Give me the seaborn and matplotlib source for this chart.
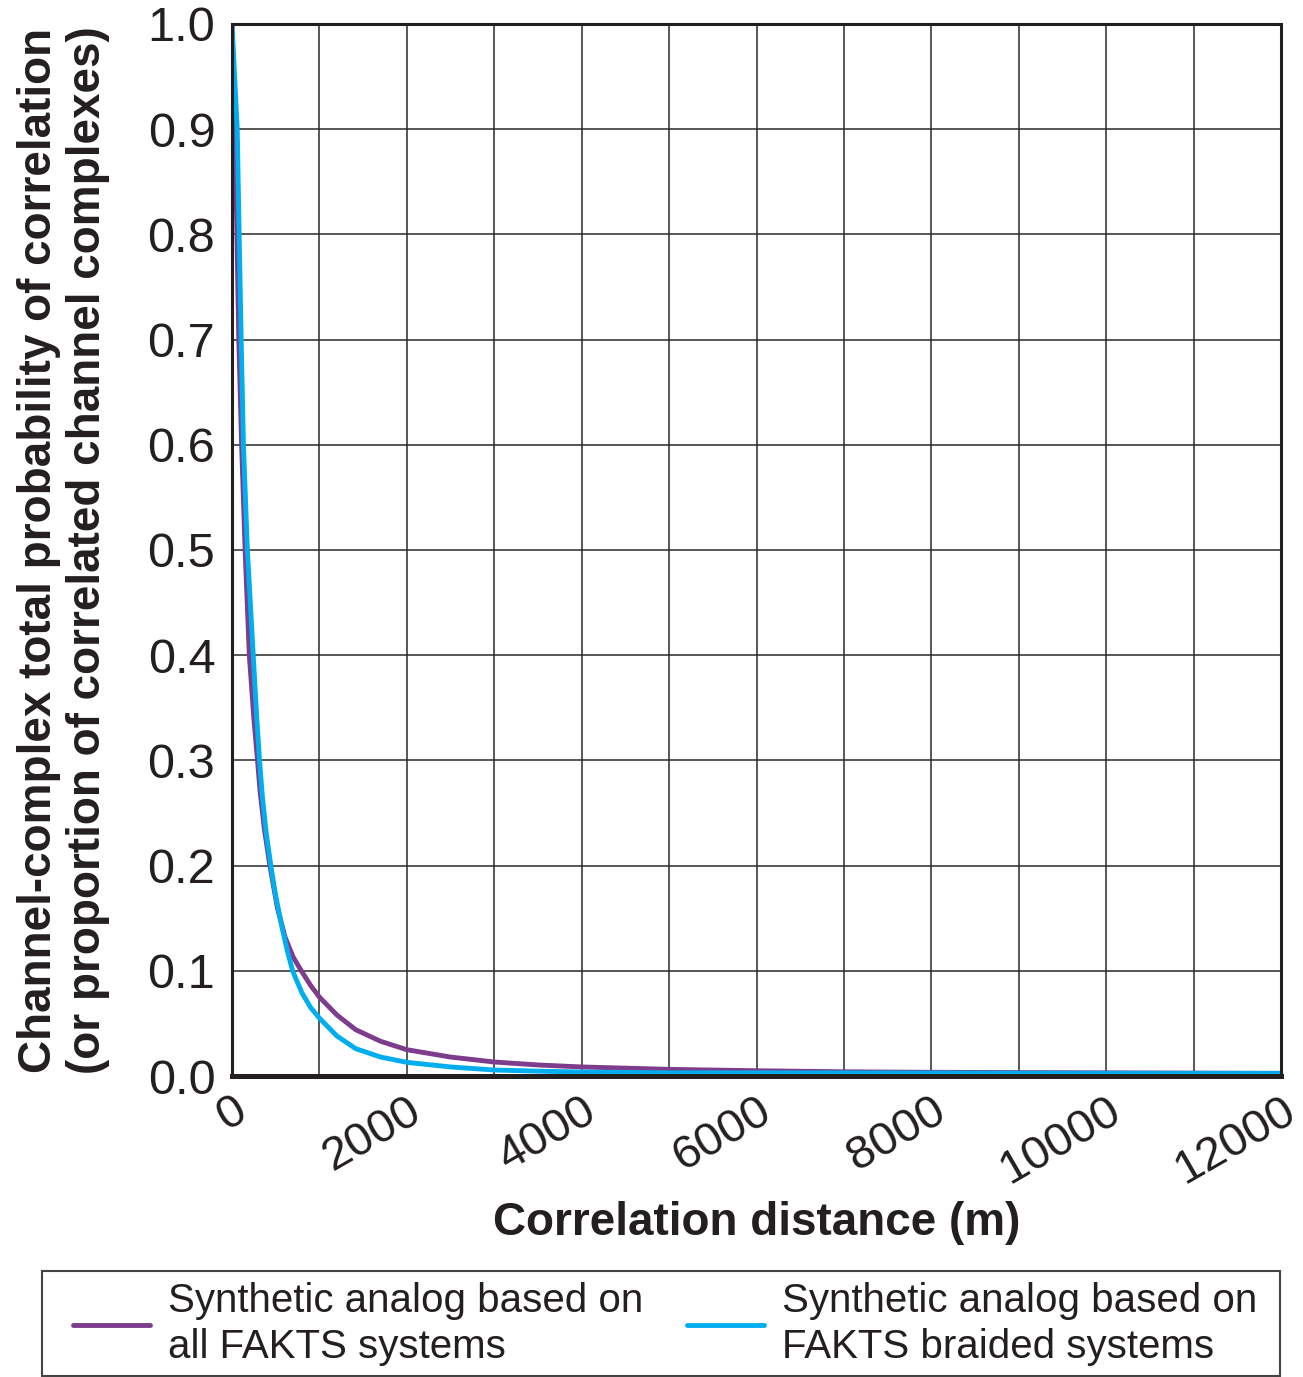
import numpy as np
import pandas as pd
import matplotlib
matplotlib.use("Agg")
import matplotlib.pyplot as plt
from matplotlib.patches import Rectangle
from matplotlib.ticker import MultipleLocator, FormatStrFormatter
import seaborn as sns

# Correlation curves (distance in m, probability of correlation)
all_dist = [0, 34, 56, 78, 110, 150, 198, 250, 292, 322, 370, 433, 519, 607, 700, 793,
            900, 1000, 1200, 1415, 1700, 2000, 2500, 3000, 3500, 4000, 5000, 6000,
            7000, 8000, 10000, 12000]
all_prob = [1.0, 0.9, 0.8, 0.7, 0.6, 0.5, 0.4, 0.34, 0.3, 0.27, 0.235, 0.2, 0.16, 0.132,
            0.113, 0.1, 0.086, 0.075, 0.058, 0.044, 0.033, 0.025, 0.018, 0.0133, 0.0105,
            0.0086, 0.0063, 0.005, 0.004, 0.0035, 0.003, 0.0025]

braided_dist = [0, 60, 82, 105, 131, 176, 243, 280, 315, 348, 390, 444, 496, 570, 630,
                693, 800, 900, 1000, 1200, 1415, 1700, 2000, 2500, 3000, 3500, 4000,
                5000, 6000, 8000, 10000, 12000]
braided_prob = [1.0, 0.9, 0.8, 0.7, 0.6, 0.5, 0.4, 0.345, 0.3, 0.265, 0.232, 0.2, 0.173,
                0.142, 0.12, 0.1, 0.079, 0.065, 0.055, 0.038, 0.026, 0.018, 0.013, 0.0086,
                0.0057, 0.0046, 0.0038, 0.003, 0.003, 0.0028, 0.0025, 0.0025]

series_names = ["Synthetic analog based on\nall FAKTS systems",
                "Synthetic analog based on\nFAKTS braided systems"]
series_colors = ["#7d3c8c", "#00aeef"]

x_ticks = [0, 2000, 4000, 6000, 8000, 10000, 12000]

df = pd.concat([
    pd.DataFrame({"dist": all_dist, "prob": all_prob, "series": series_names[0]}),
    pd.DataFrame({"dist": braided_dist, "prob": braided_prob, "series": series_names[1]}),
], ignore_index=True)

sns.set_style("white")
plt.rcParams["font.family"] = ["Liberation Sans", "DejaVu Sans"]

W, H = 1303, 1377
fig = plt.figure(figsize=(W / 100, H / 100), dpi=100)
ax = fig.add_axes([232 / W, 1 - 1076 / H, (1281 - 232) / W, (1076 - 24) / H])

sns.lineplot(data=df, x="dist", y="prob", hue="series", hue_order=series_names,
             palette=series_colors, linewidth=3.5, ax=ax, legend=True,
             estimator=None, sort=True)
for ln in ax.get_lines():
    ln.set_solid_joinstyle("round")
    ln.set_solid_capstyle("round")

ax.set_xlim(0, 12000)
ax.set_ylim(0, 1.0)

ax.xaxis.set_major_locator(MultipleLocator(2000))
ax.xaxis.set_minor_locator(MultipleLocator(1000))
ax.yaxis.set_major_locator(MultipleLocator(0.1))
ax.yaxis.set_major_formatter(FormatStrFormatter("%.1f"))
ax.set_xticks(x_ticks)
ax.set_xticklabels([str(v) for v in x_ticks])

grid_color = "#2a2a2a"
ax.grid(True, which="both", axis="x", color=grid_color, linewidth=1.1)
ax.grid(True, which="major", axis="y", color=grid_color, linewidth=1.1)
ax.set_axisbelow(True)

ax.tick_params(axis="x", which="major", direction="out", length=7, width=2,
               color="#231f20", labelsize=34, pad=2)
ax.tick_params(axis="x", which="minor", length=0)
ax.tick_params(axis="y", which="major", length=0, labelsize=35, pad=12)
for lab in ax.get_xticklabels():
    lab.set_rotation(30)
    lab.set_ha("right")
    lab.set_va("top")
    lab.set_rotation_mode("anchor")
for lab in ax.get_xticklabels() + ax.get_yticklabels():
    lab.set_color("#231f20")

for side, lw in {"top": 2.2, "right": 2.2, "left": 2.2, "bottom": 3.6}.items():
    ax.spines[side].set_visible(True)
    ax.spines[side].set_color("#231f20")
    ax.spines[side].set_linewidth(lw)

ax.set_xlabel("Correlation distance (m)", fontsize=33, fontweight="bold",
              color="#231f20", labelpad=6)
ax.set_ylabel("Channel-complex total probability of correlation\n"
              "(or proportion of correlated channel complexes)",
              fontsize=33, fontweight="bold", color="#231f20", labelpad=27,
              linespacing=1.15)

handles, labels = ax.get_legend_handles_labels()
ax.get_legend().remove()
for h in handles:
    h.set_linewidth(3.5)
leg = fig.legend(handles, labels, loc="center left",
                 bbox_to_anchor=(73 / W, 1 - 1324 / H),
                 ncol=2, fontsize=29, frameon=False, handlelength=1.9,
                 handletextpad=0.45, borderpad=0, borderaxespad=0,
                 columnspacing=1.1)
for t in leg.get_texts():
    t.set_linespacing(1.3)
    t.set_color("#231f20")

# legend box
fig.patches.append(Rectangle((42 / W, 1 - 1376 / H), (1280 - 42) / W, (1376 - 1271) / H,
                             transform=fig.transFigure, fill=False,
                             edgecolor="#444444", linewidth=1.5))

fig.savefig("out.png", dpi=100, facecolor="white")
